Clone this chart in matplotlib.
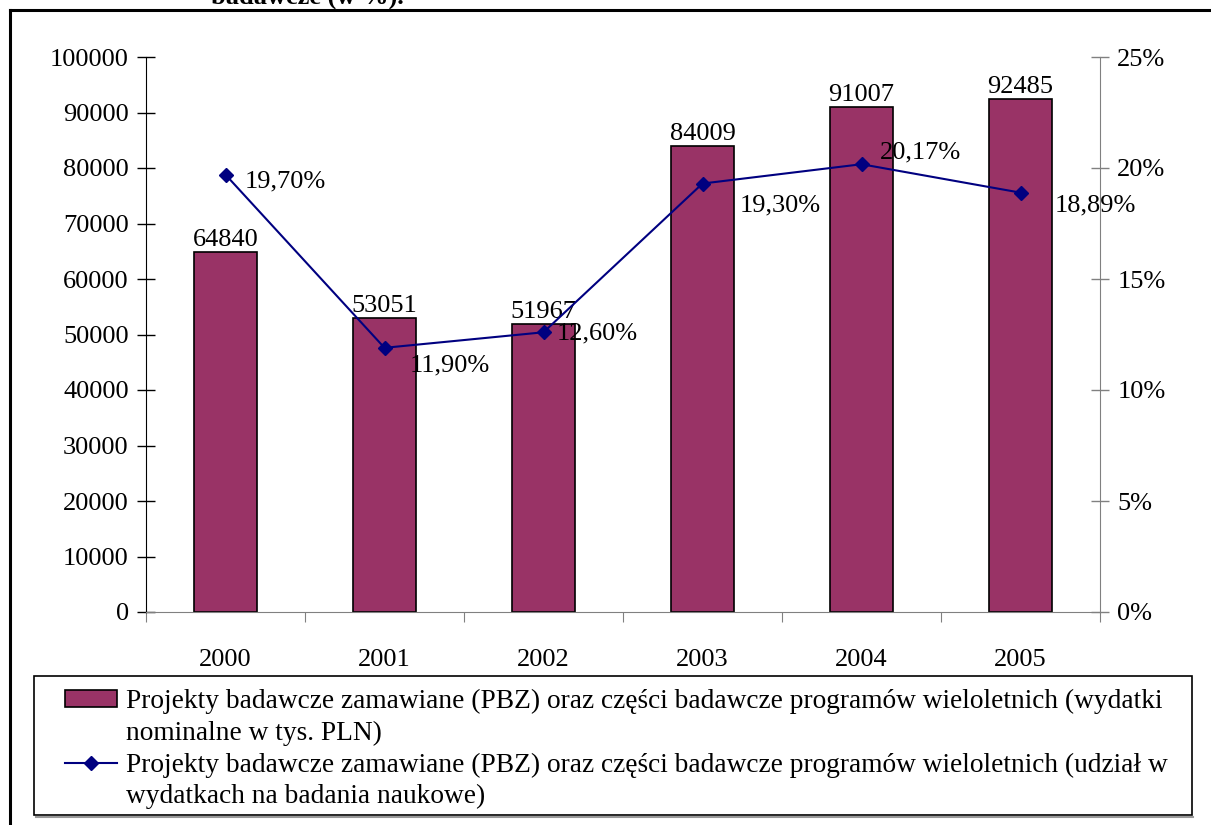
import matplotlib
matplotlib.use("Agg")
import matplotlib.pyplot as plt
from matplotlib.patches import Patch, Rectangle
from matplotlib.lines import Line2D

years = ["2000", "2001", "2002", "2003", "2004", "2005"]
wydatki = [64840, 53051, 51967, 84009, 91007, 92485]
udzial = [19.70, 11.90, 12.60, 19.30, 20.17, 18.89]
udzial_labels = ["19,70%", "11,90%", "12,60%", "19,30%", "20,17%", "18,89%"]

# opisy serii, podzielone na wiersze jak w oryginale
label_bar = ["Projekty badawcze zamawiane (PBZ) oraz części badawcze programów wieloletnich (wydatki",
             "nominalne w tys. PLN)"]
label_line = ["Projekty badawcze zamawiane (PBZ) oraz części badawcze programów wieloletnich (udział w",
              "wydatkach na badania naukowe)"]

plt.rcParams['font.family'] = ['Liberation Serif', 'DejaVu Serif']
FS = 19
FS_LEG = 19.7

fig = plt.figure(figsize=(12.11, 8.25), dpi=100)
W, H = 1211, 825

# ramka wokół wykresu (lewa i górna krawędź)
fig.add_artist(Line2D([10 / W, 10 / W], [0, 1 - 10 / H], color='black', lw=2.2))
fig.add_artist(Line2D([10 / W, 1], [1 - 10 / H, 1 - 10 / H], color='black', lw=2.2))
fig.text(307 / W, 1 - 9 / H, "badawcze (w %).", ha='center', va='bottom',
         fontsize=FS, fontweight='bold')

ax = fig.add_axes([146 / W, 1 - 612 / H, (1100 - 146) / W, (612 - 57) / H])
x = list(range(len(years)))

ax.bar(x, wydatki, width=0.4, color='#993366', edgecolor='black', linewidth=1.2, zorder=2)
for xi, v in zip(x, wydatki):
    ax.annotate(str(v), (xi, v), xytext=(0, 1), textcoords='offset pixels',
                ha='center', va='bottom', fontsize=FS)

ax.set_xlim(-0.5, 5.5)
ax.set_ylim(0, 100000)
ax.set_yticks(range(0, 100001, 10000))
ax.tick_params(axis='y', direction='inout', length=13, width=1, color='black',
               labelsize=FS, pad=6)
ax.set_xticks([i - 0.5 for i in range(7)])
ax.set_xticklabels([])
ax.tick_params(axis='x', which='major', direction='out', length=7, color='#808080')
ax.set_xticks(x, minor=True)
ax.set_xticklabels(years, minor=True)
ax.tick_params(axis='x', which='minor', length=0, labelsize=FS, pad=27)
ax.spines['top'].set_visible(False)
ax.spines['right'].set_visible(False)
ax.spines['left'].set_color('black')
ax.spines['bottom'].set_color('#808080')

ax2 = ax.twinx()
ax2.plot(x, udzial, color='#000080', lw=1.5, marker='D', markersize=7, zorder=3)
ax2.set_ylim(0, 25)
ax2.set_yticks(range(0, 26, 5))
ax2.set_yticklabels([f"{v}%" for v in range(0, 26, 5)])
ax2.tick_params(axis='y', direction='inout', length=13, width=1, color='#808080',
                labelsize=FS, pad=6)
ax2.spines['top'].set_visible(False)
ax2.spines['left'].set_visible(False)
ax2.spines['bottom'].set_visible(False)
ax2.spines['right'].set_color('#808080')

offsets = [(19, 7), (25, 18), (13, 1), (37, 22), (18, -12), (34, 13)]
for xi, v, lab, (dx, dy) in zip(x, udzial, udzial_labels, offsets):
    ax2.annotate(lab, (xi, v), xytext=(dx, -dy), textcoords='offset pixels',
                 ha='left', va='center', fontsize=FS)

# legenda z własną ramką
fig.add_artist(Rectangle((34 / W, 1 - 815 / H), (1192 - 34) / W, (815 - 676) / H,
                         transform=fig.transFigure, fill=False, edgecolor='black', lw=1.2))
fig.add_artist(Line2D([36 / W, 1193 / W], [1 - 817 / H, 1 - 817 / H], color='#999999', lw=1.5))
empty = Patch(visible=False)
handles = [Patch(facecolor='#993366', edgecolor='black', linewidth=1.2), empty,
           Line2D([], [], color='#000080', lw=1.5, marker='D', markersize=7), empty]
labels = label_bar + label_line
leg = fig.legend(handles, labels, loc='upper left',
                 bbox_to_anchor=(65 / W, 1 - 689 / H), frameon=False,
                 fontsize=FS_LEG, handlelength=1.9, handleheight=0.55, handletextpad=0.33,
                 borderaxespad=0, borderpad=0, labelspacing=0.24)

fig.savefig("out.png", dpi=100)
